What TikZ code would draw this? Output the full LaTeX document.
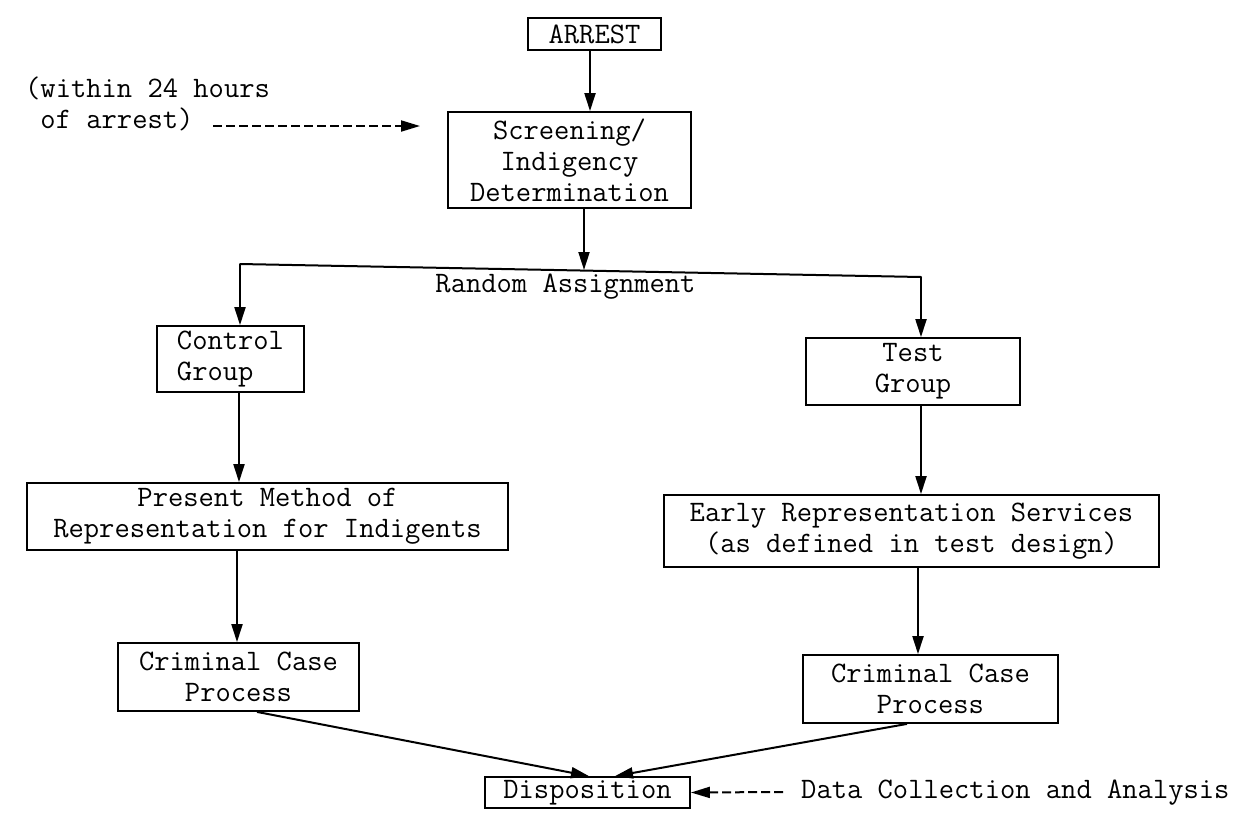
\documentclass[tikz,border=0pt]{standalone}
\usetikzlibrary{arrows.meta}
\begin{document}
\begin{tikzpicture}[x=1pt,y=-1pt,
  font=\ttfamily\fontsize{29.7}{31}\selectfont,
  box/.style={draw, line width=1.8pt, inner sep=0pt, align=center},
  plain/.style={inner sep=0pt},
  arr/.style={line width=2pt, -{Triangle[length=18pt,width=11pt]}},
  dasharr/.style={line width=2pt, dash pattern=on 9pt off 4pt, -{Triangle[length=19pt,width=11pt]}},
  link/.style={line width=2pt}]
\useasboundingbox (0,0) rectangle (1245,815);

% boxes
\node[box, minimum width=133pt, minimum height=32pt] (arrest) at (594.5,34) {ARREST};
\node[box, minimum width=243pt, minimum height=96pt] (screen) at (569.5,160) {Screening/\\Indigency\\Determination};
\node[box, align=left, minimum width=147pt, minimum height=66pt] (control) at (230.5,359) {Control\\Group};
\node[box, minimum width=214pt, minimum height=67pt] (test) at (913,371.5) {Test\\Group};
\node[box, minimum width=481pt, minimum height=67pt] (present) at (267.5,516.5) {Present Method of\\Representation for Indigents};
\node[box, minimum width=495pt, minimum height=72pt] (early) at (911.5,531) {Early Representation Services\\(as defined in test design)};
\node[box, minimum width=241pt, minimum height=68pt] (crimL) at (238.5,677) {Criminal Case\\Process};
\node[box, minimum width=255pt, minimum height=68pt] (crimR) at (930.5,689) {Criminal Case\\Process};
\node[box, minimum width=205pt, minimum height=31pt] (disp) at (587.5,792.5) {Disposition};

% texts
\node[plain, align=left, anchor=north west] (note) at (25,77) {(within 24 hours\\\phantom{(}of arrest)};
\node[plain] (random) at (565.5,287) {Random Assignment};
\node[plain, anchor=west] (data) at (801,793) {Data Collection and Analysis};

% coordinates
\coordinate (splitL) at (240,264);
\coordinate (splitR) at (921,277);
\coordinate (splitM) at (584,270);
\coordinate (noteEnd) at (213,126);
\coordinate (screenIn) at (420,126);
\coordinate (dataStart) at (783,792);

% connectors
\draw[arr] (arrest.south -| 590,0) -- (screen.north -| 590,0);
\draw[arr] (screen.south -| splitM) -- (splitM);
\draw[link, line cap=round] (splitL) -- (splitR);
\draw[arr] (splitL) -- (splitL |- control.north);
\draw[arr] (splitR) -- (splitR |- test.north);
\draw[arr] (control.south -| 239,0) -- (present.north -| 239,0);
\draw[arr] (present.south -| 237,0) -- (crimL.north -| 237,0);
\draw[arr] (test.south -| 921,0) -- (early.north -| 921,0);
\draw[arr] (early.south -| 918,0) -- (crimR.north -| 918,0);
\draw[arr] (crimL.south -| 257,0) -- (disp.north -| 589,0);
\draw[arr] (crimR.south -| 907,0) -- (disp.north -| 615,0);
\draw[dasharr] (noteEnd) -- (screenIn);
\draw[dasharr] (dataStart) -- (disp.east);
\end{tikzpicture}
\end{document}
